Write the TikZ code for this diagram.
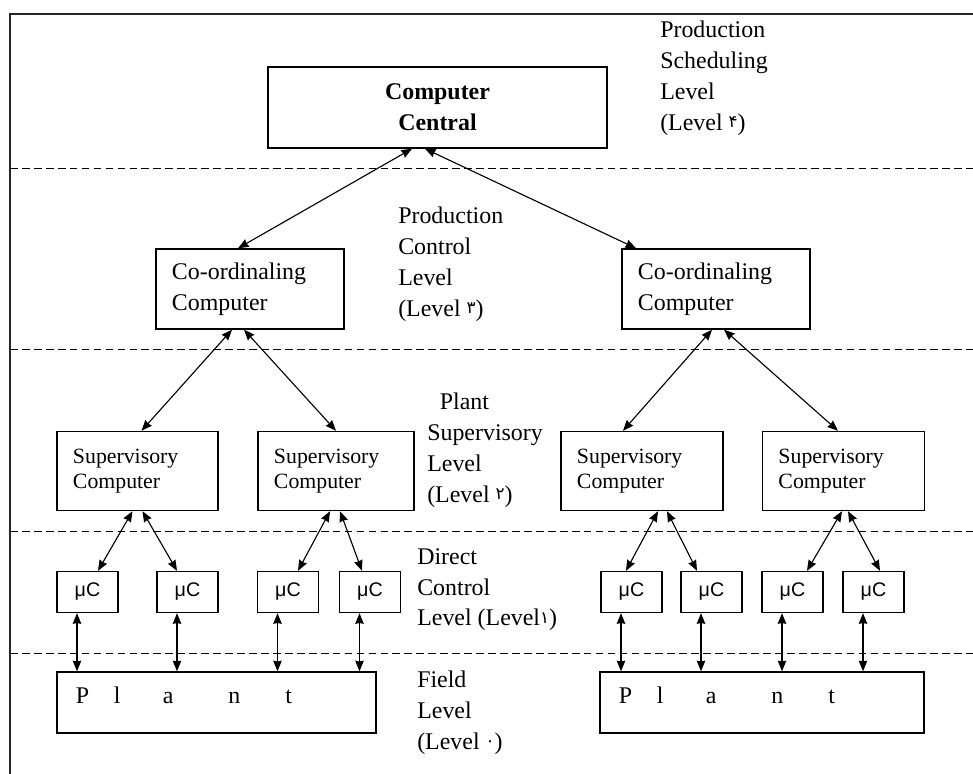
\documentclass[tikz,border=0pt]{standalone}
\usepackage{fontspec}
\setmainfont{Liberation Serif}
\newfontfamily\musans{Liberation Sans}
\newfontfamily\pdigfont{DejaVu Sans}
\newcommand{\pdig}[1]{{\pdigfont\fontsize{12}{12}\selectfont\raisebox{2pt}{#1}}}
\newcommand{\plantword}{P\hspace{1.03em}l\hspace{1.77em}a\hspace{2.3em}n\hspace{1.88em}t}
\usetikzlibrary{calc,arrows.meta}

\begin{document}
\begin{tikzpicture}[>={Stealth[length=7.5pt,width=6pt,inset=0.5pt]}, x=0.025cm, y=-0.025cm, font=\fontsize{17}{22}\selectfont]
  \tikzset{box/.style={draw, line width=1pt, inner sep=0pt},
    cobox/.style={box, align=left, inner xsep=0.4cm, text width=3.9cm, minimum height=2cm},
    supbox/.style={box, align=left, inner xsep=0.4cm, text width=#1, minimum height=1.975cm, font=\fontsize{15.5}{18}\selectfont},
    mcbox/.style={box, minimum width=1.525cm, minimum height=1.025cm, font=\musans\fontsize{14}{14}\selectfont},
    plantbox/.style={box, align=left, inner xsep=0.475cm, text width=#1, minimum height=1.525cm, text depth=11pt},
    lvl/.style={align=left, inner sep=0pt, anchor=north west},
    link/.style={<->, line width=0.8pt},
    sep/.style={dash pattern=on 5.5pt off 3pt, line width=0.7pt}}
  \useasboundingbox (0,0) rectangle (973,774);
  % frame and level lines
  \draw[line width=1.1pt, black!85] (10,774) -- (10,14) -- (973,14);
  \foreach \y in {168,349,531,653}
    \draw[sep] (10,\y) -- (973,\y);
  % boxes
  \node[box, align=center, font=\fontsize{17}{22}\selectfont\bfseries, minimum width=8.475cm, minimum height=2.025cm] (cen) at (437.5,107.5) {Computer\\Central};
  \node[cobox] (co1) at (250,289) {Co-ordinaling\\Computer};
  \node[cobox] (co2) at (716,289) {Co-ordinaling\\Computer};
  \node[supbox=3.225cm] (s1) at (137.5,471) {Supervisory\\Computer};
  \node[supbox=3.1cm] (s2) at (336,471) {Supervisory\\Computer};
  \node[supbox=3.25cm] (s3) at (642,471) {Supervisory\\Computer};
  \node[supbox=3.25cm] (s4) at (843.5,471) {Supervisory\\Computer};
  \node[mcbox] (m1) at (87.5,592) {μC};
  \node[mcbox] (m2) at (187.5,592) {μC};
  \node[mcbox] (m3) at (288,592) {μC};
  \node[mcbox] (m4) at (370,592) {μC};
  \node[mcbox] (m5) at (631.5,592) {μC};
  \node[mcbox] (m6) at (711.5,592) {μC};
  \node[mcbox] (m7) at (792.5,592) {μC};
  \node[mcbox] (m8) at (873.5,592) {μC};
  \node[plantbox=7.025cm] (p1) at (216.5,702.5) {\plantword};
  \node[plantbox=7.15cm] (p2) at (762,702.5) {\plantword};
  % level names
  \node[lvl] (lev4) at (660,21) {Production\\Scheduling\\Level\\(Level \pdig{۴})};
  \node[lvl] (lev3) at (398,207) {Production\\Control\\Level\\(Level \pdig{۳})};
  \node[lvl] (lev2) at (427,393) {\hspace{9pt}Plant\\Supervisory\\Level\\(Level \pdig{۲})};
  \node[lvl] (lev1) at (417,548) {Direct\\Control\\Level (Level\pdig{۱})};
  \node[lvl] (lev0) at (417,671) {Field\\Level\\(Level \pdig{۰})};
  % links
  \draw[link] ($(cen.south)+(-25.5,0)$) -- ($(co1.north)+(-12,0)$);
  \draw[link] ($(cen.south)+(-12.5,0)$) -- ($(co2.north)+(-80,0)$);
  \draw[link] ($(co1.south)+(-18,0)$) -- ($(s1.north)+(4,0)$);
  \draw[link] ($(co1.south)+(-6,0)$) -- ($(s2.north)+(0,0)$);
  \draw[link] ($(co2.south)+(-4,0)$) -- ($(s3.north)+(-19,0)$);
  \draw[link] ($(co2.south)+(8,0)$) -- ($(s4.north)+(-5.5,0)$);
  \draw[link] ($(s1.south)+(-5,0)$) -- ($(m1.north)+(10.5,0)$);
  \draw[link] ($(s1.south)+(5,0)$) -- ($(m2.north)+(-10.5,0)$);
  \draw[link] ($(s2.south)+(-6,0)$) -- ($(m3.north)+(10,0)$);
  \draw[link] ($(s2.south)+(4,0)$) -- ($(m4.north)+(-8,0)$);
  \draw[link] ($(s3.south)+(16,0)$) -- ($(m5.north)+(-5.5,0)$);
  \draw[link] ($(s3.south)+(25,0)$) -- ($(m6.north)+(-14.5,0)$);
  \draw[link] ($(s4.south)+(-1.5,0)$) -- ($(m7.north)+(14.5,0)$);
  \draw[link] ($(s4.south)+(4.5,0)$) -- ($(m8.north)+(6.5,0)$);
  \foreach \m/\p in {m1/p1,m2/p1,m3/p1,m4/p1,m5/p2,m6/p2,m7/p2,m8/p2}
    \draw[link] ($(\m.south)+(-10.5,0)$) -- ($(\m.south |- \p.north)+(-10.5,0)$);
\end{tikzpicture}
\end{document}
